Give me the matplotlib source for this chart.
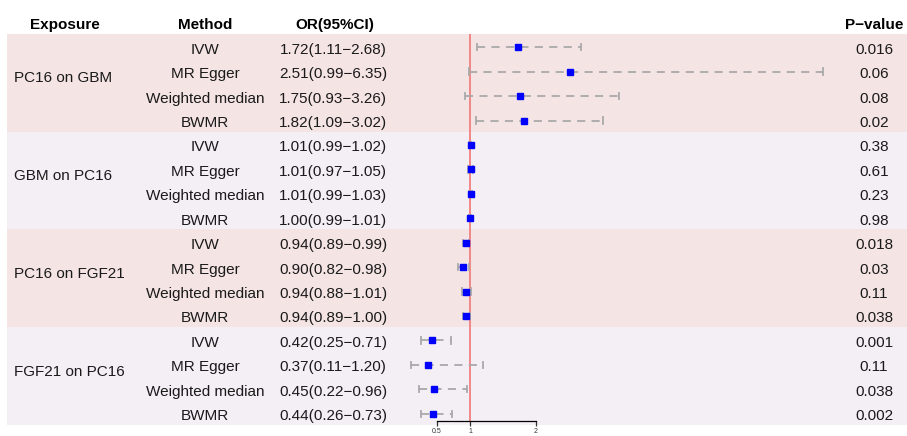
import matplotlib
matplotlib.use("Agg")
import matplotlib.pyplot as plt

# data
exposures = ["PC16 on GBM", "GBM on PC16", "PC16 on FGF21", "FGF21 on PC16"]
methods = ["IVW", "MR Egger", "Weighted median", "BWMR"]
or_est = [1.72, 2.51, 1.75, 1.82,
          1.01, 1.01, 1.01, 1.00,
          0.94, 0.90, 0.94, 0.94,
          0.42, 0.37, 0.45, 0.44]
ci_low = [1.11, 0.99, 0.93, 1.09,
          0.99, 0.97, 0.99, 0.99,
          0.89, 0.82, 0.88, 0.89,
          0.25, 0.11, 0.22, 0.26]
ci_high = [2.68, 6.35, 3.26, 3.02,
           1.02, 1.05, 1.03, 1.01,
           0.99, 0.98, 1.01, 1.00,
           0.71, 1.20, 0.96, 0.73]
p_values = ["0.016", "0.06", "0.08", "0.02",
            "0.38", "0.61", "0.23", "0.98",
            "0.018", "0.03", "0.11", "0.038",
            "0.001", "0.11", "0.038", "0.002"]
x_ticks = [0.5, 1, 2]

W, H = 907, 436
band_colors = ["#F5E4E4", "#F4EEF5"]
txt = "#1A1A1A"

plt.rcParams['font.family'] = ['Liberation Sans', 'DejaVu Sans']

fig = plt.figure(figsize=(W / 100, H / 100), dpi=100)
# axes spans the band area (pixel 34 .. 425)
ax = fig.add_axes([0, 11 / H, 1, 391 / H])
px_one, px_per_unit = 470, 66
ax.set_xlim(1 - px_one / px_per_unit, 1 + (W - px_one) / px_per_unit)
ax.set_ylim(15.5, -0.5)

def fx(px):
    return px / W

n = len(or_est)
for g in range(len(exposures)):
    ax.axhspan(g * 4 - 0.5, g * 4 + 3.5, xmin=7 / W, xmax=1,
               color=band_colors[g % 2], lw=0, zorder=0)

axis_y = 15.33
ax.plot([1, 1], [-0.5, axis_y], color="#F08080", lw=1.3, zorder=1)

ty = 0.08  # small downward nudge for text baseline
for i in range(n):
    yi = i + 0.04
    ax.plot([ci_low[i], ci_high[i]], [yi, yi], color="#A9A9A9", lw=1.3,
            ls=(0, (4.5, 3.5)), zorder=2)
    for v in (ci_low[i], ci_high[i]):
        ax.plot([v, v], [yi - 0.13, yi + 0.13], color="#A9A9A9", lw=1.3, zorder=2)
    ax.plot(or_est[i], yi, "s", ms=4.6, color="#0000FF", mec="#0000FF", zorder=3)

    ax.text(fx(205), i + ty, methods[i % 4], transform=ax.get_yaxis_transform(),
            ha="center", va="center_baseline", fontsize=11, color=txt)
    ax.text(fx(333), i + ty, "%.2f(%.2f\u2212%.2f)" % (or_est[i], ci_low[i], ci_high[i]),
            transform=ax.get_yaxis_transform(), ha="center", va="center_baseline",
            fontsize=11, color=txt)
    ax.text(fx(874), i + ty, p_values[i], transform=ax.get_yaxis_transform(),
            ha="center", va="center_baseline", fontsize=11, color=txt)

for g, name in enumerate(exposures):
    ax.text(fx(14), g * 4 + 1.25, name, transform=ax.get_yaxis_transform(),
            ha="left", va="center_baseline", fontsize=11, color=txt)

# header row
hdr = dict(transform=ax.get_yaxis_transform(), va="center_baseline", fontsize=11,
           fontweight="bold", color="black", clip_on=False)
ax.text(fx(65), -1 + ty, "Exposure", ha="center", **hdr)
ax.text(fx(205), -1 + ty, "Method", ha="center", **hdr)
ax.text(fx(335), -1 + ty, "OR(95%CI)", ha="center", **hdr)
ax.text(fx(874), -1 + ty, "P\u2212value", ha="center", **hdr)

for s in ["top", "left", "right"]:
    ax.spines[s].set_visible(False)
ax.spines["bottom"].set_position(("data", axis_y))
ax.spines["bottom"].set_bounds(x_ticks[0], x_ticks[-1])
ax.spines["bottom"].set_linewidth(0.9)
ax.set_xticks(x_ticks)
ax.set_xticklabels(["0.5", "1", "2"])
ax.tick_params(axis="x", direction="out", length=3.5, width=0.9,
               labelsize=5, pad=1.5, colors="#333333")
ax.set_yticks([])
ax.patch.set_alpha(0)

fig.savefig("out.png", dpi=100)
